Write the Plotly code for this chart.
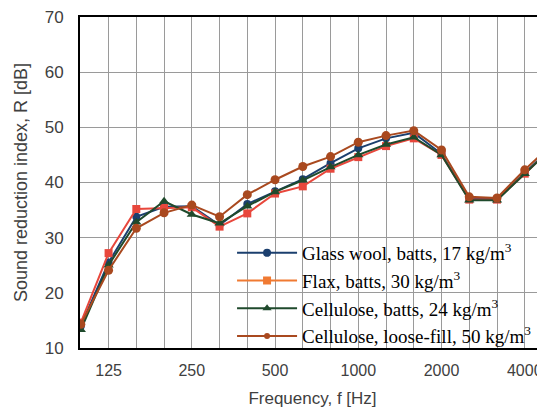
import plotly.graph_objects as go

freqs = ["100", "125", "160", "200", "250", "315", "400", "500", "630", "800",
         "1000", "1250", "1600", "2000", "2500", "3150", "4000", "5000"]
tick_labels = ["125", "250", "500", "1000", "2000", "4000"]

glass_wool = [14.0, 25.5, 33.8, 35.6, 35.7, 32.3, 36.1, 38.4, 40.6, 43.5,
              46.2, 48.0, 49.0, 45.2, 37.0, 37.0, 41.8, 46.5]
flax = [14.6, 27.2, 35.2, 35.4, 35.5, 32.0, 34.4, 38.0, 39.3, 42.5,
        44.6, 46.6, 48.0, 45.0, 36.9, 36.9, 41.6, 46.3]
cellulose_batts = [13.3, 25.0, 32.8, 36.6, 34.2, 32.6, 35.7, 38.3, 40.4, 42.8,
                   45.0, 46.9, 48.2, 45.0, 36.8, 36.8, 41.6, 46.3]
cellulose_loose = [14.3, 24.1, 31.7, 34.5, 35.9, 33.8, 37.8, 40.5, 42.9, 44.7,
                   47.3, 48.5, 49.4, 45.9, 37.4, 37.2, 42.3, 47.0]

names = ["Glass wool, batts, 17 kg/m<sup>3</sup>",
         "Flax, batts, 30 kg/m<sup>3</sup>",
         "Cellulose, batts, 24 kg/m<sup>3</sup>",
         "Cellulose, loose-fill, 50 kg/m<sup>3</sup>"]

fig = go.Figure()

series = [
    (glass_wool, names[0], "#1B3F6E", "#1B3F6E", "circle", 8, 8),
    (flax, names[1], "#E8473C", "#F07A32", "square", 8, 8),
    (cellulose_batts, names[2], "#1F4A2C", "#1F4A2C", "triangle-up", 9, 8),
    (cellulose_loose, names[3], "#A9491F", "#A9491F", "circle", 9, 6),
]

for vals, name, col, legcol, sym, sz, lsz in series:
    fig.add_trace(go.Scatter(
        x=freqs, y=vals, mode="lines+markers", name=name, showlegend=False,
        line=dict(color=col, width=2),
        marker=dict(symbol=sym, size=sz, color=col),
    ))

for vals, name, col, legcol, sym, sz, lsz in series:
    fig.add_trace(go.Scatter(
        x=[None], y=[None], mode="lines+markers", name=name, showlegend=True,
        line=dict(color=legcol, width=2),
        marker=dict(symbol=sym, size=lsz, color=legcol),
    ))

# white legend panel hiding the grid (between gridlines and traces)
fig.add_shape(type="rect", xref="paper", yref="y", x0=0.31, x1=1.0, y0=10, y1=28.3,
              fillcolor="white", line=dict(width=0), layer="between")

fig.update_layout(
    width=537, height=402,
    margin=dict(l=72, r=0, t=9, b=62),
    paper_bgcolor="white", plot_bgcolor="white",
    font=dict(family="Liberation Sans, Arial, sans-serif", size=17, color="#404040"),
    xaxis=dict(
        type="category", categoryorder="array", categoryarray=freqs,
        range=[-0.03, 16.73],
        tickvals=freqs,
        ticktext=[f if f in tick_labels else "" for f in freqs],
        tickfont=dict(size=16),
        showgrid=True, gridcolor="#9a9a9a", gridwidth=1,
        showline=True, linecolor="black", linewidth=2, mirror=True,
        ticks="", ticklabelstandoff=7,
        title=dict(text="Frequency, f [Hz]", standoff=14,
                   font=dict(size=17, color="#404040")),
        zeroline=False, automargin=False,
    ),
    yaxis=dict(
        range=[10, 70], dtick=10,
        showgrid=True, gridcolor="#9a9a9a", gridwidth=1,
        showline=True, linecolor="black", linewidth=2,
        ticks="", ticklabelstandoff=11, ticklabeloverflow="allow",
        title=dict(text="Sound reduction index, R [dB]", standoff=12,
                   font=dict(size=18, color="#404040")),
        zeroline=False, automargin=False,
    ),
    legend=dict(
        x=0.327, y=-0.021, xanchor="left", yanchor="bottom",
        bgcolor="rgba(0,0,0,0)", borderwidth=0,
        font=dict(family="Liberation Serif, Times New Roman, serif", size=19, color="black"),
        tracegroupgap=0, itemwidth=60,
    ),
)

fig.write_html("out.html")
